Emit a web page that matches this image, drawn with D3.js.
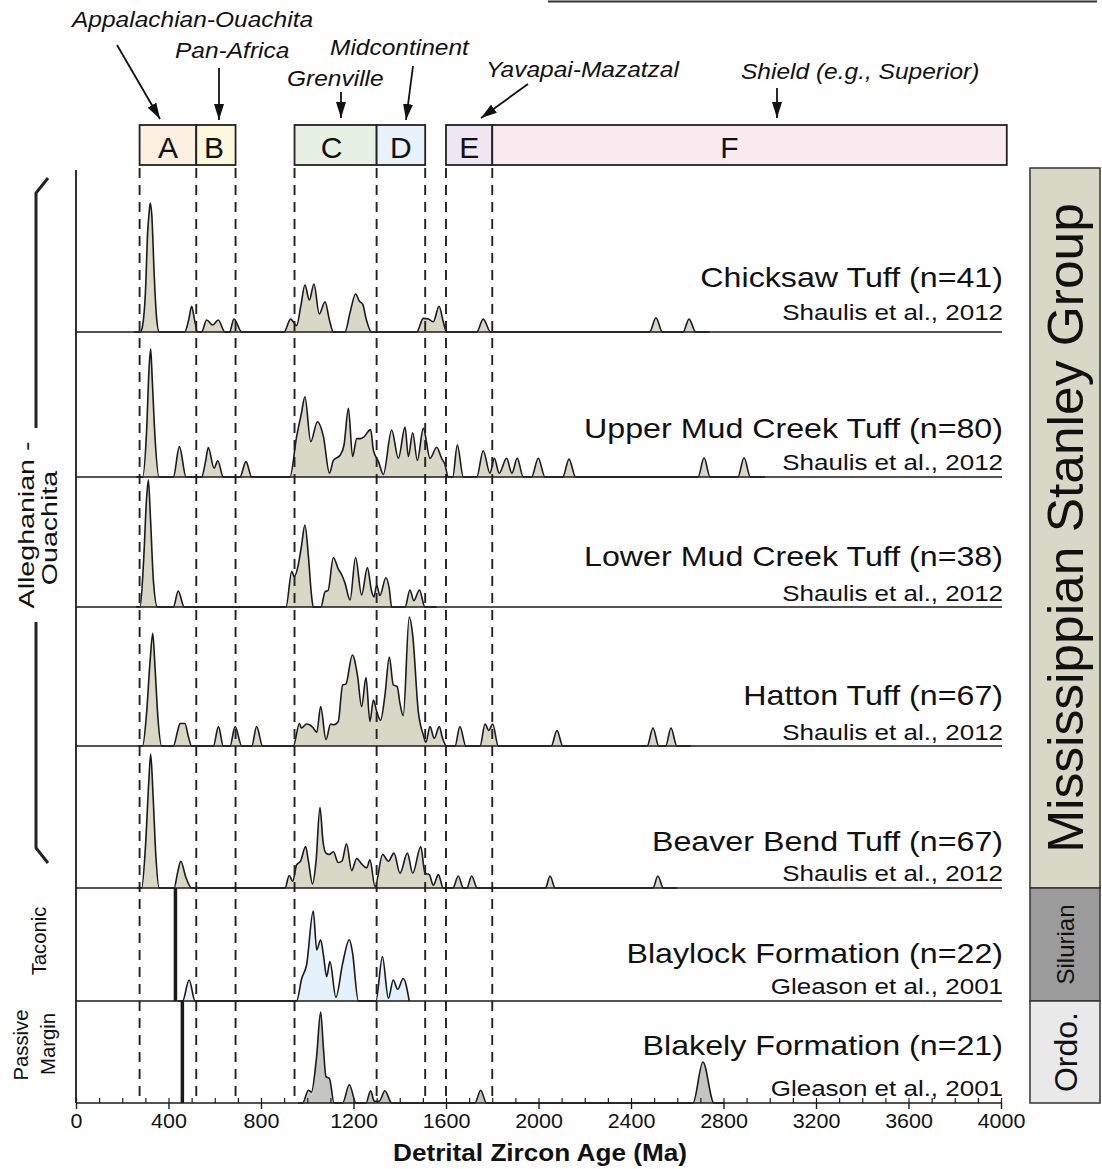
<!DOCTYPE html>
<html>
<head>
<meta charset="utf-8">
<script src="https://cdn.jsdelivr.net/npm/d3@7"></script>
<style>
  html, body { margin: 0; padding: 0; background: #fff; }
  svg { display: block; font-family: "Liberation Sans", Arial, sans-serif; }
</style>
</head>
<body>
<svg id="chart" width="1102" height="1169"></svg>
<script>
// ---- Detrital zircon age spectra: [age (Ma), relative probability] ----
const chicksaw = [[250,0],[278,0],[288,0.05],[300,0.3],[310,0.78],[316,0.92],[321,1.0],[328,0.9],[338,0.45],[348,0.12],[360,0],
  [470,0],[488,0.1],[500,0.2],[512,0.1],[526,0],
  [543,0],[565,0.093],[591,0.054],[615,0.093],[644,0],
  [664,0],[683,0.1],[717,0],
  [900,0],[928,0.1],[954,0.05],[972,0.2],[990,0.364],[1009,0.248],[1029,0.372],[1052,0.14],[1077,0.235],[1095,0.1],[1113,0],
  [1163,0],[1185,0.15],[1209,0.295],[1225,0.24],[1240,0.214],[1255,0.1],[1278,0],
  [1473,0],[1502,0.106],[1524,0.1],[1545,0.08],[1570,0.2],[1588,0.08],[1603,0],
  [1733,0],[1761,0.1],[1793,0],
  [2480,0],[2508,0.11],[2536,0],
  [2625,0],[2651,0.1],[2680,0],[2740,0]];

const upperMudCreek = [[260,0],[288,0],[305,0.35],[316,0.85],[323,1.0],[330,0.75],[342,0.3],[359,0],
  [421,0],[447,0.237],[476,0],
  [543,0],[560,0.12],[572,0.23],[597,0.07],[613,0.127],[637,0],
  [709,0],[735,0.12],[760,0],
  [925,0],[954,0.315],[975,0.5],[990,0.627],[1015,0.276],[1044,0.432],[1070,0.315],[1096,0.03],[1113,0.13],[1142,0.17],[1159,0.25],[1178,0.536],[1196,0.16],[1214,0.3],[1230,0.3],[1243,0.31],[1274,0.37],[1286,0.21],[1308,0.12],[1329,0.02],[1365,0.367],[1394,0.146],[1423,0.39],[1437,0.16],[1456,0.346],[1476,0.13],[1502,0.38],[1531,0.146],[1560,0.232],[1581,0.146],[1595,0.1],[1610,0],
  [1629,0],[1649,0.25],[1675,0],
  [1733,0],[1761,0.205],[1790,0.03],[1809,0.146],[1830,0.03],[1862,0.146],[1885,0.03],[1908,0.146],[1934,0],
  [1970,0],[1999,0.146],[2028,0],
  [2105,0],[2132,0.14],[2160,0],
  [2690,0],[2716,0.15],[2742,0],
  [2862,0],[2889,0.15],[2916,0],[2980,0]];

const lowerMudCreek = [[260,0],[277,0],[292,0.35],[305,0.85],[313,1.0],[322,0.7],[335,0.2],[352,0],
  [421,0],[442,0.126],[468,0],
  [908,0],[933,0.28],[944,0.24],[961,0.33],[975,0.48],[990,0.646],[1005,0.4],[1018,0.1],[1026,0],
  [1059,0],[1077,0.12],[1090,0.13],[1113,0.39],[1134,0.3],[1150,0.25],[1163,0.19],[1185,0.055],[1209,0.39],[1235,0.095],[1260,0.31],[1278,0.126],[1289,0.08],[1300,0.173],[1314,0.09],[1340,0.23],[1355,0.14],[1365,0],
  [1423,0],[1444,0.134],[1461,0.05],[1485,0.134],[1509,0],[1560,0]];

const hatton = [[270,0],[288,0],[305,0.25],[320,0.65],[332,0.873],[342,0.6],[355,0.2],[371,0],
  [421,0],[440,0.12],[450,0.175],[471,0.175],[485,0.08],[500,0],
  [594,0],[616,0.15],[637,0],
  [666,0],[688,0.15],[717,0],
  [760,0],[781,0.15],[807,0],
  [940,0],[966,0.175],[975,0.14],[997,0.17],[1010,0.165],[1026,0.14],[1041,0.106],[1058,0.305],[1081,0.05],[1101,0.17],[1115,0.165],[1134,0.19],[1153,0.473],[1167,0.48],[1195,0.705],[1218,0.537],[1235,0.305],[1254,0.53],[1271,0.19],[1286,0.357],[1300,0.27],[1317,0.2],[1336,0.395],[1355,0.69],[1372,0.473],[1389,0.46],[1401,0.33],[1415,0.235],[1441,1.0],[1456,0.86],[1480,0.27],[1502,0.085],[1513,0.03],[1531,0.15],[1549,0.06],[1571,0.15],[1585,0.06],[1603,0],
  [1639,0],[1660,0.15],[1686,0],
  [1747,0],[1769,0.17],[1785,0.12],[1802,0.17],[1826,0],
  [2055,0],[2080,0.12],[2105,0],
  [2470,0],[2495,0.14],[2520,0],
  [2550,0],[2573,0.14],[2598,0],[2660,0]];

const beaverBend = [[265,0],[284,0],[300,0.3],[315,0.8],[323,1.0],[333,0.7],[345,0.25],[360,0],
  [424,0],[440,0.12],[453,0.2],[475,0.08],[500,0],
  [904,0],[922,0.093],[937,0.05],[954,0.173],[971,0.2],[993,0.31],[1005,0.2],[1023,0.03],[1038,0.2],[1055,0.6],[1068,0.35],[1081,0.26],[1095,0.25],[1113,0.27],[1134,0.19],[1150,0.2],[1170,0.33],[1192,0.13],[1214,0.22],[1235,0.18],[1257,0.15],[1271,0.21],[1293,0.01],[1326,0.25],[1351,0.2],[1375,0.26],[1401,0.11],[1433,0.26],[1456,0.11],[1491,0.31],[1509,0.11],[1528,0.1],[1545,0.02],[1567,0.1],[1588,0],
  [1630,0],[1653,0.09],[1675,0],
  [1690,0],[1711,0.09],[1735,0],
  [2030,0],[2050,0.09],[2072,0],
  [2495,0],[2516,0.09],[2540,0],[2600,0]];

const blaylock = [[440,0],[461,0],[489,0.233],[515,0],
  [954,0],[976,0.25],[997,0.4],[1026,1.0],[1041,0.567],[1058,0.68],[1070,0.51],[1084,0.27],[1098,0.437],[1124,0.04],[1153,0.418],[1182,0.68],[1195,0.55],[1221,0],
  [1297,0],[1325,0.49],[1351,0.03],[1372,0.233],[1391,0.13],[1415,0.25],[1441,0]];

const blakely = [[960,0],[980,0],[1005,0.14],[1018,0.12],[1040,0.5],[1058,1.0],[1070,0.6],[1081,0.29],[1096,0.27],[1116,0],
  [1153,0],[1182,0.2],[1211,0],
  [1254,0],[1274,0.135],[1290,0.02],[1311,0.02],[1336,0.135],[1365,0],
  [1725,0],[1750,0.14],[1775,0],
  [2668,0],[2711,0.45],[2759,0],[2800,0]];

const sampleNames = ["Chicksaw Tuff", "Upper Mud Creek Tuff", "Lower Mud Creek Tuff", "Hatton Tuff",
                     "Beaver Bend Tuff", "Blaylock Formation", "Blakely Formation"];
const sampleCounts = [41, 80, 38, 67, 67, 22, 21];
const sampleCitations = ["Shaulis et al., 2012", "Shaulis et al., 2012", "Shaulis et al., 2012", "Shaulis et al., 2012",
                         "Shaulis et al., 2012", "Gleason et al., 2001", "Gleason et al., 2001"];
const sampleSeries = [chicksaw, upperMudCreek, lowerMudCreek, hatton, beaverBend, blaylock, blakely];

// depositional age markers (Ma) for the two older units
const depositionalAges = { "Blaylock Formation": 430, "Blakely Formation": 460 };

// source provinces (Ma)
const provinceLetters = ["A", "B", "C", "D", "E", "F"];
const provinceStart   = [275, 520, 945, 1300, 1600, 1800];
const provinceEnd     = [520, 690, 1300, 1510, 1800, 4025];
const provinceBoundaries = [275, 520, 690, 945, 1300, 1510, 1600, 1800];

const xTickLabels = [0, 400, 800, 1200, 1600, 2000, 2400, 2800, 3200, 3600, 4000];

// ---- layout ----
const svg = d3.select("#chart");
const x = d3.scaleLinear().domain([0, 4000]).range([76, 1001]);
const panelTop = 170;
const panelBase = [332, 477, 607, 746, 888, 1001, 1103];
const panelPeak = [129, 128, 127, 129, 134, 90, 91];
const titleDy = [-45, -39, -41, -41, -37, -38, -48];
const citeDy  = [-12, -7, -6, -6, -7, -7, -7];
const panelFill = ["#d9d8c7", "#d9d8c7", "#d9d8c7", "#d9d8c7", "#d9d8c7", "#e3f1fb", "#c6c6c0"];
const letterShift = [0, -2, -4, 0, 0, -20];

// text helper: wide sans lettering, stretched along its own baseline
function label(g, px, py, str, o) {
  return g.append("text")
    .attr("transform", `translate(${px},${py}) rotate(${o.rotate || 0}) scale(${o.sx || 1},1)`)
    .attr("text-anchor", o.anchor || "start")
    .attr("font-size", o.size)
    .attr("font-style", o.style || null)
    .attr("font-weight", o.weight || null)
    .attr("fill", "#111")
    .text(str);
}

// province boxes
const provColors = ["#fdf0e1", "#fcf8dc", "#e6f1e3", "#e7f2fa", "#eee6f1", "#faebf0"];
const boxG = svg.append("g");
provinceLetters.forEach((L, i) => {
  boxG.append("rect")
    .attr("x", x(provinceStart[i])).attr("y", 125)
    .attr("width", x(provinceEnd[i]) - x(provinceStart[i])).attr("height", 40)
    .attr("fill", provColors[i]).attr("stroke", "#222").attr("stroke-width", 1.8);
  label(boxG, (x(provinceStart[i]) + x(provinceEnd[i])) / 2 + letterShift[i], 158, L,
        { size: 30, sx: 1.0, anchor: "middle" });
});

// province names with arrows
const defs = svg.append("defs");
defs.append("marker").attr("id", "ah").attr("viewBox", "0 0 16 10")
  .attr("refX", 16).attr("refY", 5).attr("markerWidth", 16).attr("markerHeight", 10)
  .attr("markerUnits", "userSpaceOnUse").attr("orient", "auto")
  .append("path").attr("d", "M0,0 L16,5 L0,10 z").attr("fill", "#111");

const provinceNames = [
  { t: "Appalachian-Ouachita", x: 72,  y: 27, from: [117, 45], to: [160, 119] },
  { t: "Pan-Africa",           x: 175, y: 58, from: [219, 68], to: [219, 120] },
  { t: "Grenville",            x: 287, y: 86, from: [341, 92], to: [341, 118] },
  { t: "Midcontinent",         x: 330, y: 55, from: [413, 66], to: [406, 120] },
  { t: "Yavapai-Mazatzal",     x: 486, y: 77, from: [528, 84], to: [481, 118] },
  { t: "Shield (e.g., Superior)", x: 741, y: 79, from: [777, 88], to: [777, 118] }
];
const lab = svg.append("g");
provinceNames.forEach(p => {
  label(lab, p.x, p.y, p.t, { size: 21.5, sx: 1.14, style: "italic" });
  lab.append("line").attr("x1", p.from[0]).attr("y1", p.from[1])
    .attr("x2", p.to[0]).attr("y2", p.to[1])
    .attr("stroke", "#111").attr("stroke-width", 1.8).attr("marker-end", "url(#ah)");
});

// rule at top right
svg.append("line").attr("x1", 548).attr("x2", 1097).attr("y1", 1.5).attr("y2", 1.5)
  .attr("stroke", "#333").attr("stroke-width", 2);

// spectra
const plotG = svg.append("g");
sampleSeries.forEach((series, i) => {
  const base = panelBase[i];
  const y = d3.scaleLinear().domain([0, 1]).range([base, base - panelPeak[i]]);
  const area = d3.area().x(d => x(d[0])).y0(base).y1(d => y(d[1])).curve(d3.curveMonotoneX);
  const line = d3.line().x(d => x(d[0])).y(d => y(d[1])).curve(d3.curveMonotoneX);
  plotG.append("path").attr("d", area(series)).attr("fill", panelFill[i]);
  plotG.append("path").attr("d", line(series)).attr("fill", "none")
    .attr("stroke", "#1a1a1a").attr("stroke-width", 1.6).attr("stroke-linejoin", "round");
});

// province boundary dashes
provinceBoundaries.forEach(b => {
  plotG.append("line").attr("x1", x(b)).attr("x2", x(b)).attr("y1", 168).attr("y2", 1103)
    .attr("stroke", "#222").attr("stroke-width", 1.9).attr("stroke-dasharray", "10,7");
});

// depositional age bars
[5, 6].forEach(i => {
  const a = depositionalAges[sampleNames[i]];
  plotG.append("line").attr("x1", x(a)).attr("x2", x(a))
    .attr("y1", panelBase[i - 1]).attr("y2", panelBase[i])
    .attr("stroke", "#1a1a1a").attr("stroke-width", 3.5);
});

// panel separators and left axis
panelBase.forEach(b => {
  plotG.append("line").attr("x1", 76).attr("x2", 1002).attr("y1", b).attr("y2", b)
    .attr("stroke", "#1a1a1a").attr("stroke-width", 1.6);
});
plotG.append("line").attr("x1", 76).attr("x2", 76).attr("y1", panelTop).attr("y2", 1103)
  .attr("stroke", "#1a1a1a").attr("stroke-width", 1.8);

// sample titles
sampleNames.forEach((n, i) => {
  label(plotG, 1003, panelBase[i] + titleDy[i], `${n} (n=${sampleCounts[i]})`, { size: 28.5, sx: 1.13, anchor: "end" });
  label(plotG, 1003, panelBase[i] + citeDy[i], sampleCitations[i], { size: 22, sx: 1.18, anchor: "end" });
});

// x axis
const axisG = svg.append("g").attr("transform", "translate(0,1103)");
axisG.append("g").call(d3.axisBottom(x).tickValues(d3.range(0, 4001, 100)).tickSize(-5).tickFormat(""))
  .call(g => g.select(".domain").remove())
  .selectAll("line").attr("stroke", "#1a1a1a").attr("stroke-width", 1.2);
axisG.append("g").call(d3.axisBottom(x).tickValues(xTickLabels).tickSize(6).tickPadding(5).tickFormat(d3.format("d")))
  .call(g => g.select(".domain").remove())
  .call(g => g.selectAll("line").attr("stroke", "#1a1a1a").attr("stroke-width", 1.4))
  .call(g => g.selectAll("text").attr("font-size", 19.5).attr("fill", "#111")
    .attr("transform", "scale(1.1,1)")
    .attr("font-family", "'Liberation Sans', Arial, sans-serif"));
label(svg, 540, 1161, "Detrital Zircon Age (Ma)", { size: 24, sx: 1.09, anchor: "middle", weight: "bold" });

// tectonic setting brackets on the left
const brG = svg.append("g").attr("fill", "none").attr("stroke", "#222").attr("stroke-width", 3);
brG.append("path").attr("d", "M48,178 L36,193 L36,428");
brG.append("path").attr("d", "M36,622 L36,848 L48,863");
const leftLabels = [
  { t: "Alleghanian -", x: 34, y: 525, size: 22, sx: 1.3 },
  { t: "Ouachita",      x: 57, y: 528, size: 22, sx: 1.3 },
  { t: "Taconic",       x: 46, y: 941, size: 19.5, sx: 1.04 },
  { t: "Passive",       x: 28, y: 1045, size: 19.5, sx: 1.04 },
  { t: "Margin",        x: 55, y: 1044, size: 19.5, sx: 1.04 }
];
leftLabels.forEach(l => {
  label(svg, l.x, l.y, l.t, { size: l.size, sx: l.sx, anchor: "middle", rotate: -90 });
});

// stratigraphic column on the right
const strat = [
  { t: "Mississippian Stanley Group", y0: 168,  y1: 888,  fill: "#d9d8c6", fs: 50, sx: 1.03 },
  { t: "Silurian",                    y0: 888,  y1: 1001, fill: "#9b9b9b", fs: 24, sx: 1 },
  { t: "Ordo.",                       y0: 1001, y1: 1103, fill: "#e9e9e9", fs: 32, sx: 1 }
];
strat.forEach(s => {
  svg.append("rect").attr("x", 1030).attr("y", s.y0).attr("width", 70).attr("height", s.y1 - s.y0)
    .attr("fill", s.fill).attr("stroke", "#333").attr("stroke-width", 1.5);
  label(svg, 1065 + s.fs * 0.36, (s.y0 + s.y1) / 2, s.t, { size: s.fs, sx: s.sx, anchor: "middle", rotate: -90 });
});
</script>
</body>
</html>
